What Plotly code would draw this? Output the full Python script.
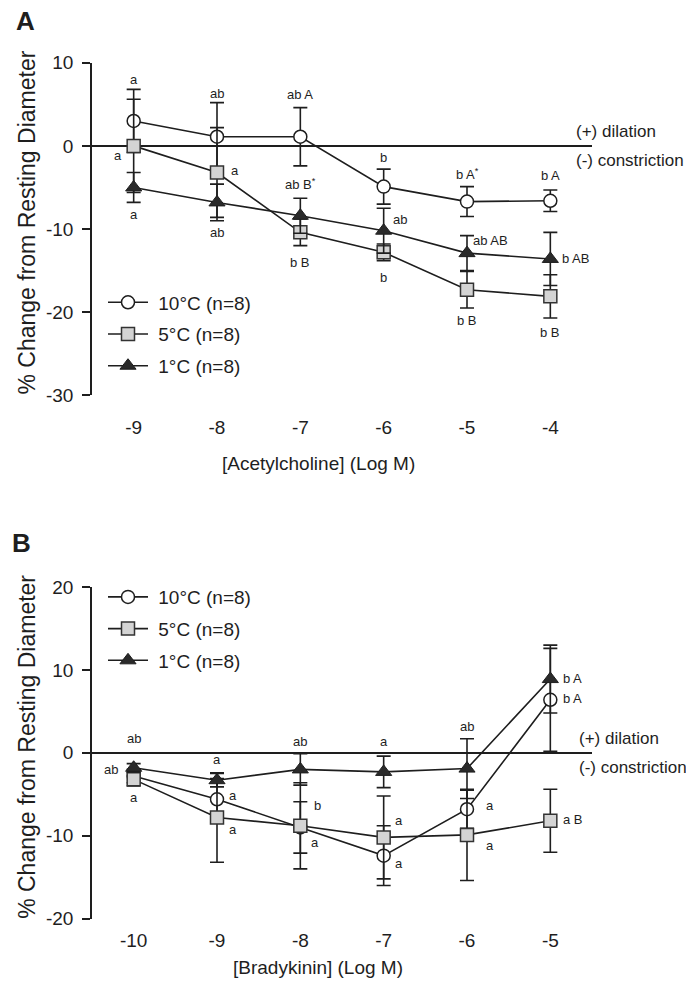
import plotly.graph_objects as go

FONT = "Liberation Sans, Arial, sans-serif"
INK = "#1e1e1e"

# ---------------- Panel A: Acetylcholine ----------------
ach_dose = [-9, -8, -7, -6, -5, -4]
ach_ticktext = ["-9", "-8", "-7", "-6", "-5", "-4"]
ach_10 = [3.0, 1.1, 1.1, -4.9, -6.7, -6.6]
ach_10_err = [3.8, 4.1, 3.5, 2.1, 1.8, 1.3]
ach_5 = [0.0, -3.2, -10.4, -12.8, -17.3, -18.1]
ach_5_err = [5.6, 5.4, 1.6, 1.0, 2.2, 2.6]
ach_1 = [-5.0, -6.8, -8.4, -10.2, -12.9, -13.6]
ach_1_err = [1.8, 2.2, 2.1, 2.7, 2.1, 3.2]
ach_yticks = [10, 0, -10, -20, -30]
ach_yticktext = ["10", "0", "-10", "-20", "-30"]

# ---------------- Panel B: Bradykinin ----------------
bk_dose = [-10, -9, -8, -7, -6, -5]
bk_ticktext = ["-10", "-9", "-8", "-7", "-6", "-5"]
bk_10 = [-2.8, -5.6, -9.0, -12.4, -6.8, 6.4]
bk_10_err = [0.8, 2.5, 3.1, 3.6, 2.3, 6.2]
bk_5 = [-3.2, -7.8, -8.8, -10.2, -9.9, -8.2]
bk_5_err = [0.8, 5.4, 5.2, 5.0, 5.5, 3.8]
bk_1 = [-1.8, -3.3, -2.0, -2.3, -1.9, 8.9]
bk_1_err = [0.5, 0.8, 1.9, 1.9, 3.6, 4.1]
bk_yticks = [20, 10, 0, -10, -20]
bk_yticktext = ["20", "10", "0", "-10", "-20"]

series_names = ["10°C (n=8)", "5°C (n=8)", "1°C (n=8)"]

# significance letters (x, y, text)
ach_letters = [
    (-9, 8.0, "a"), (-9.19, -1.2, "a"), (-9, -8.2, "a"),
    (-8, 6.3, "ab"), (-7.79, -3.0, "a"), (-8, -10.4, "ab"),
    (-7, 6.2, "ab A"), (-7, -4.6, "ab B<sup>*</sup>"), (-7, -14.0, "b B"),
    (-6, -1.4, "b"), (-5.81, -8.8, "ab"), (-6, -15.8, "b"),
    (-5, -3.4, "b A<sup>*</sup>"), (-4.72, -11.4, "ab AB"), (-5, -21.0, "b B"),
    (-4, -3.6, "b A"), (-3.70, -13.6, "b AB"), (-4, -22.4, "b B"),
]
bk_letters = [
    (-10, 1.7, "ab"), (-10.27, -2.0, "ab"), (-10, -5.4, "a"),
    (-9, -0.85, "a"), (-8.81, -5.1, "a"), (-8.81, -9.3, "a"),
    (-8, 1.4, "ab"), (-7.80, -6.3, "b"), (-7.82, -10.8, "a"),
    (-7, 1.4, "a"), (-6.82, -8.2, "a"), (-6.82, -13.4, "a"),
    (-6, 3.2, "ab"), (-5.73, -6.4, "a"), (-5.73, -11.2, "a"),
    (-4.73, -8.0, "a B"), (-4.73, 9.0, "b A"), (-4.73, 6.6, "b A"),
]

styles = [
    dict(symbol="circle", size=13, color="white", line=dict(color=INK, width=1.5)),
    dict(symbol="square", size=13, color="#d4d4d4", line=dict(color="#333333", width=1.5)),
    dict(symbol="triangle-up", size=14, color="#2a2a2a", line=dict(color=INK, width=1)),
]

fig = go.Figure()


def add_panel(xs, ys_list, errs_list, xa, ya, legend):
    for i, (ys, es) in enumerate(zip(ys_list, errs_list)):
        fig.add_trace(go.Scatter(
            x=xs, y=ys, mode="lines+markers", name="\u00a0" + series_names[i],
            xaxis=xa, yaxis=ya, legend=legend, legendgroup=f"{legend}{i}",
            line=dict(color=INK, width=1.6),
            marker=styles[i],
            error_y=dict(type="data", array=es, visible=True, color=INK,
                         thickness=1.6, width=7),
            showlegend=True,
        ))


add_panel(ach_dose, [ach_10, ach_5, ach_1], [ach_10_err, ach_5_err, ach_1_err],
          "x", "y", "legend")
add_panel(bk_dose, [bk_10, bk_5, bk_1], [bk_10_err, bk_5_err, bk_1_err],
          "x2", "y2", "legend2")

W, H = 694, 987
DX = 6        # horizontal page offset
DY, SY = 18.2, 0.98   # vertical page offset / scale seen in the capture


def px(v):
    return (v - DX) / W


def py(v):
    return 1 - ((v - DY) / SY) / H


xdom = [px(90), px(590)]
ydomA = [py(396), py(63)]
ydomB = [py(920), py(588)]

common_y = dict(showline=True, linecolor=INK, linewidth=1.5, ticks="outside",
                ticklen=8, tickwidth=1.5, tickcolor=INK, showgrid=False,
                zeroline=True, zerolinecolor=INK, zerolinewidth=1.5,
                tickfont=dict(family=FONT, size=19, color=INK), ticklabelstandoff=5)
common_x = dict(showline=False, ticks="", showgrid=False, zeroline=False,
                tickfont=dict(family=FONT, size=19, color=INK))

annotations = []
for (x, y, t) in ach_letters:
    annotations.append(dict(x=x, y=y, xref="x", yref="y", text=t, showarrow=False,
                            xanchor="center", yanchor="middle",
                            font=dict(family=FONT, size=13, color=INK)))
for (x, y, t) in bk_letters:
    annotations.append(dict(x=x, y=y, xref="x2", yref="y2", text=t, showarrow=False,
                            xanchor="center", yanchor="middle",
                            font=dict(family=FONT, size=13, color=INK)))

for xr, yr, xpos in [("x", "y", -3.72), ("x2", "y2", -4.68)]:
    annotations.append(dict(x=xpos, y=0, xref=xr, yref=yr, text="(+) dilation",
                            xanchor="left", yanchor="bottom", yshift=3, showarrow=False,
                            font=dict(family=FONT, size=17, color=INK)))
    annotations.append(dict(x=xpos, y=0, xref=xr, yref=yr, text="(-) constriction",
                            xanchor="left", yanchor="top", yshift=-3, showarrow=False,
                            font=dict(family=FONT, size=17, color=INK)))


def paper_note(xp, yp, text, size, angle=0):
    annotations.append(dict(x=px(xp), y=py(yp), xref="paper", yref="paper", text=text,
                            textangle=angle, xanchor="center", yanchor="middle",
                            showarrow=False, font=dict(family=FONT, size=size, color=INK)))


paper_note(23, 21, "<b>A</b>", 26)
paper_note(19, 544, "<b>B</b>", 26)
paper_note(25, 223, "% Change from Resting Diameter", 23, -90)
paper_note(25, 748, "% Change from Resting Diameter", 23, -90)
paper_note(316, 464, "[Acetylcholine] (Log M)", 19)
paper_note(316, 969, "[Bradykinin] (Log M)", 19)

legend_style = dict(bgcolor="rgba(0,0,0,0)", borderwidth=0, xanchor="left", yanchor="top",
                    font=dict(family=FONT, size=19, color=INK), tracegroupgap=4,
                    itemwidth=40)

fig.update_layout(
    width=W, height=H, margin=dict(l=0, r=0, t=0, b=0),
    paper_bgcolor="white", plot_bgcolor="white",
    xaxis=dict(domain=xdom, range=[-9.5, -3.5], anchor="y", tickvals=ach_dose,
               ticktext=ach_ticktext, ticklabelstandoff=19, **common_x),
    yaxis=dict(domain=ydomA, range=[-30, 10], anchor="x", tickvals=ach_yticks,
               ticktext=ach_yticktext, **common_y),
    xaxis2=dict(domain=xdom, range=[-10.5, -4.5], anchor="y2", tickvals=bk_dose,
                ticktext=bk_ticktext, ticklabelstandoff=8, **common_x),
    yaxis2=dict(domain=ydomB, range=[-20, 20], anchor="x2", tickvals=bk_yticks,
                ticktext=bk_yticktext, **common_y),
    legend=dict(x=px(101), y=py(284), **legend_style),
    legend2=dict(x=px(101), y=py(579), **legend_style),
    annotations=annotations,
    showlegend=True,
)

fig.write_html("out.html")
